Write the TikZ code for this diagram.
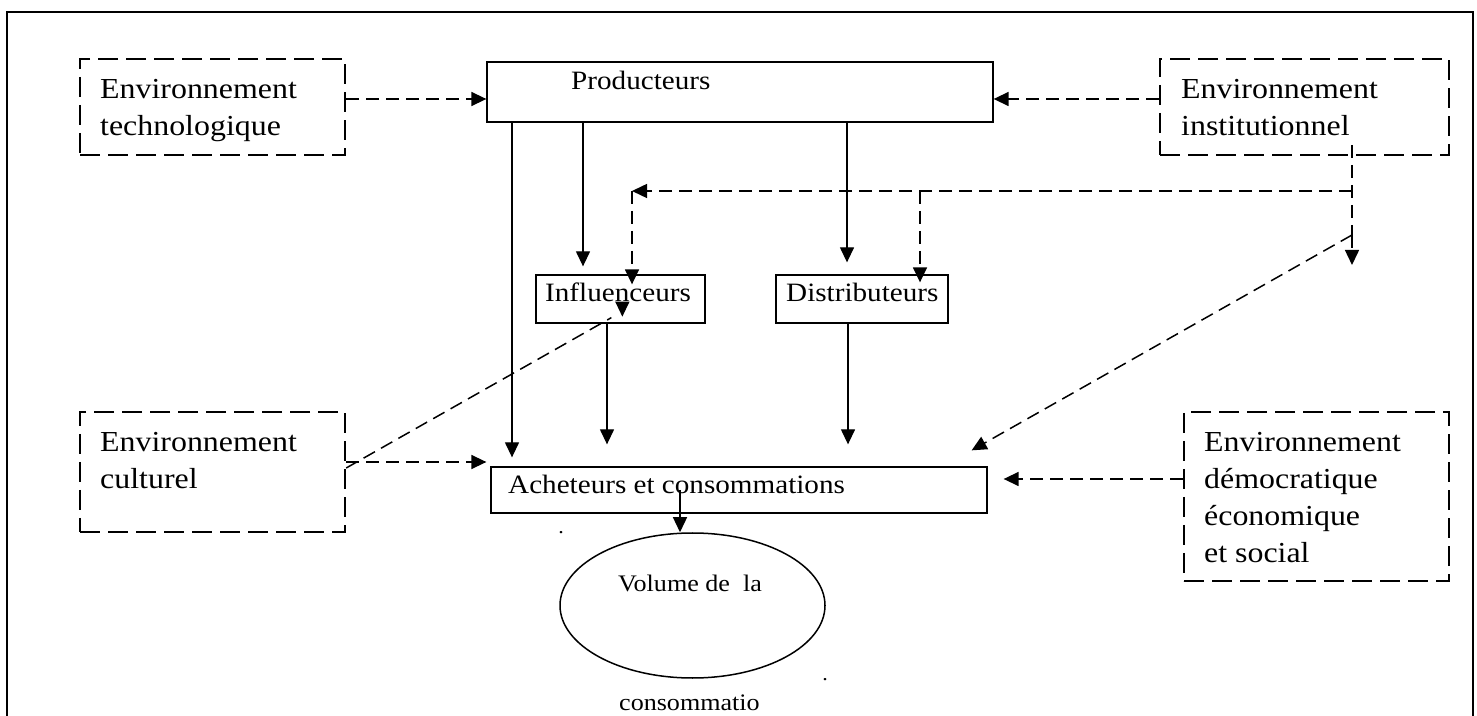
\documentclass[tikz,border=0pt]{standalone}
\usepackage{fontspec}
\setmainfont{Liberation Serif}[FakeStretch=1.1]
\usetikzlibrary{arrows.meta,shapes.geometric}
\tikzset{>={Triangle[length=15pt,width=14pt]}}
\tikzset{
    envbox/.style={draw, line width=2.4pt, dash pattern=on 20pt off 8pt, inner sep=0pt},
    plainbox/.style={draw, line width=1.3pt, inner sep=0pt},
    envtext/.style={anchor=north west, align=left, inner sep=0pt, font=\fontsize{29}{37}\selectfont},
    boxtext/.style={anchor=base west, inner sep=0pt, font=\fontsize{26.5}{32}\selectfont},
    voltext/.style={anchor=base west, inner sep=0pt, font=\fontsize{23.7}{28}\selectfont},
    solidarrow/.style={->, line width=1.3pt},
    dasharrow/.style={->, line width=1.5pt, dash pattern=on 13pt off 7pt},
    dashline/.style={line width=1.5pt, dash pattern=on 13pt off 7pt}
}
\begin{document}
\begin{tikzpicture}[x=1pt, y=1pt]
    \useasboundingbox (0,0) rectangle (1477,715);
    \draw[line width=2.2pt](7,-10)--(7,703)--(1473,703)--(1473,-10);
    % environnements
    \node[envbox, minimum width=265pt, minimum height=96pt](tech) at (212.5,608){};
    \node[envbox, minimum width=289pt, minimum height=96pt](inst) at (1304.5,608){};
    \node[envbox, minimum width=265pt, minimum height=120pt](cult) at (212.5,243){};
    \node[envbox, minimum width=265pt, minimum height=169pt](demo) at (1316.5,218.5){};
    \node[envtext](techlbl) at (100,636){Environnement\\technologique};
    \node[envtext](instlbl) at (1181,636){Environnement\\institutionnel};
    \node[envtext](cultlbl) at (100,283){Environnement\\culturel};
    \node[envtext](demolbl) at (1204,283){Environnement\\démocratique\\économique\\et social};
    % acteurs
    \node[plainbox, minimum width=506pt, minimum height=60pt](prod) at (740,623){};
    \node[plainbox, minimum width=169pt, minimum height=48pt](infl) at (620.5,416){};
    \node[plainbox, minimum width=172pt, minimum height=48pt](dist) at (862,416){};
    \node[plainbox, minimum width=496pt, minimum height=46pt](ach) at (739,225){};
    \node[draw, ellipse, line width=1.5pt, inner sep=0pt, minimum width=265pt, minimum height=145pt](vol) at (692.5,109.5){};
    \node[boxtext](prodlbl) at (571,625){Producteurs};
    \node[boxtext](infllbl) at (545,413){Influenceurs};
    \node[boxtext](distlbl) at (786,413){Distributeurs};
    \node[boxtext](achlbl) at (508,221){Acheteurs et consommations};
    \node[voltext](vollbl) at (618,124){Volume de\ \ la};
    \node[voltext](consolbl) at (619,5){consommatio};
    \node[anchor=base, inner sep=0pt, font=\fontsize{20}{24}\selectfont](dota) at (561,181){.};
    \node[anchor=base, inner sep=0pt, font=\fontsize{20}{24}\selectfont](dotb) at (825,35){.};
    % flux directs
    \draw[solidarrow, shorten >=9pt](512,0 |- prod.south)--(512,0 |- ach.north);
    \draw[solidarrow, shorten >=8pt](583,0 |- prod.south)--(583,0 |- infl.north);
    \draw[solidarrow, shorten >=12pt](847,0 |- prod.south)--(847,0 |- dist.north);
    \draw[solidarrow, shorten >=22pt](607,0 |- infl.south)--(607,0 |- ach.north);
    \draw[solidarrow, shorten >=22pt](848,0 |- dist.south)--(848,0 |- ach.north);
    \draw[solidarrow](680,0 |- ach.center)--(680,0 |- vol.north);
    % influences de l'environnement
    \draw[dasharrow](tech.east |- 0,616)--(prod.west |- 0,616);
    \draw[dasharrow](inst.west |- 0,616)--(prod.east |- 0,616);
    \draw[dasharrow, shorten >=4pt](cult.east |- 0,253)--(ach.west |- 0,253);
    \draw[dasharrow, shorten >=16pt](demo.west |- 0,236)--(ach.east |- 0,236);
    \coordinate(itop) at (1352,570);
    \coordinate(ijoin) at (1352,524);
    \coordinate(ibend) at (1352,480);
    \coordinate(icorner) at (632,524);
    \draw[dashline](itop)--(ibend);
    \draw[dasharrow](ijoin)--(icorner);
    \draw[dasharrow, shorten >=-10pt](icorner)--(icorner |- infl.north);
    \draw[dasharrow, shorten >=-8pt](920,0 |- ijoin)--(920,0 |- dist.north);
    \draw[dasharrow](ibend)--([shift={(-16,16)}]ach.north east);
    \draw[dasharrow](ibend)--++(0,-30);
    \draw[dashline](cult.east |- 0,247)--([shift={(76,6)}]infl.south west);
    \draw[solidarrow]([shift={(87,22)}]infl.south west)--([shift={(87,7)}]infl.south west);
\end{tikzpicture}
\end{document}
